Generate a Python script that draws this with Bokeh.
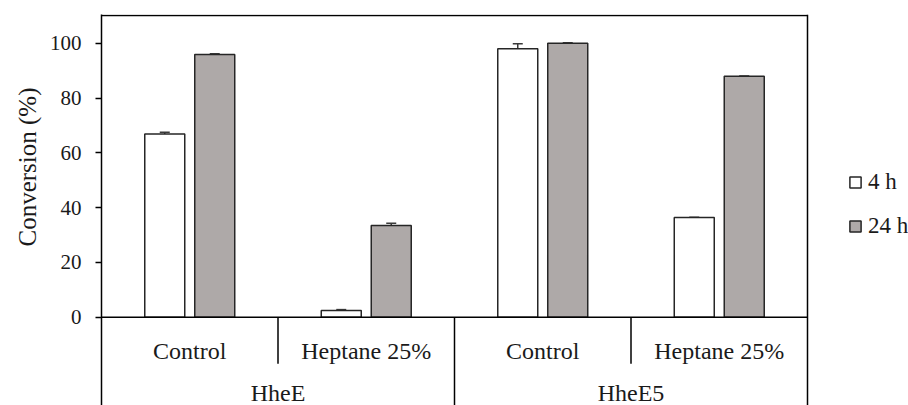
from bokeh.plotting import figure
from bokeh.models import (ColumnDataSource, Whisker, Span, Legend, LegendItem,
                          FixedTicker, Range1d, Title)
from bokeh.transform import dodge
from bokeh.core.properties import value
from bokeh.embed import file_html
from bokeh.resources import INLINE

# ---- data ----
groups = ["HheE", "HheE", "HheE5", "HheE5"]
conditions = ["Control", "Heptane 25%", "Control", "Heptane 25%"]
series = ["4 h", "24 h"]
conv_4h = [66.9, 2.5, 98.0, 36.4]
err_4h = [0.6, 0.3, 1.8, 0.1]
conv_24h = [95.9, 33.5, 100.0, 88.0]
err_24h = [0.3, 0.8, 0.2, 0.1]
y_ticks = [0, 20, 40, 60, 80, 100]
y_title = "Conversion (%)"

FONT = "Liberation Serif"
TXT = "#1a1a1a"
GRAY = "#aea9a8"
EDGE = "#262626"

# layout constants (plot box 101..807 px wide inside a 101..908 frame)
Y_MIN, Y_MAX = -32.2, 110.5
Y_TOP_LINE = 110.1
X_EXTRA = 807.0 / 706.0

n = len(conditions)
xpos = [i + 0.5 for i in range(n)]  # category centres on a 0..n axis
src = ColumnDataSource(dict(
    x=xpos, cond=conditions,
    c4=conv_4h, c4u=[v + e for v, e in zip(conv_4h, err_4h)], c4l=[v - e for v, e in zip(conv_4h, err_4h)],
    c24=conv_24h, c24u=[v + e for v, e in zip(conv_24h, err_24h)], c24l=[v - e for v, e in zip(conv_24h, err_24h)],
))

p = figure(x_range=Range1d(0, n * X_EXTRA), y_range=Range1d(Y_MIN, Y_MAX), width=908, height=405,
           output_backend="svg", toolbar_location=None, x_axis_location=None,
           min_border_left=101, min_border_right=0, min_border_top=14, min_border_bottom=0)
p.outline_line_color = None
p.grid.grid_line_color = None
p.background_fill_color = "white"

off = 0.1416
bw = 0.2266
r4 = p.vbar(x=dodge("x", -off), top="c4", width=bw, source=src,
            fill_color="white", line_color=EDGE, line_width=1.5)
r24 = p.vbar(x=dodge("x", off), top="c24", width=bw, source=src,
             fill_color=GRAY, line_color=EDGE, line_width=1.5)

for base_off, up, lo in [(-off, "c4u", "c4l"), (off, "c24u", "c24l")]:
    w = Whisker(source=src, base=dodge("x", base_off), upper=up, lower=lo,
                line_color="#3a3a3a", line_width=1.5)
    w.upper_head.size = 10
    w.lower_head.size = 10
    w.upper_head.line_color = "#3a3a3a"
    w.lower_head.line_color = "#3a3a3a"
    w.upper_head.line_width = 1.5
    w.lower_head.line_width = 1.5
    p.add_layout(w)

# y axis
ax = p.yaxis[0]
ax.ticker = FixedTicker(ticks=y_ticks)
ax.minor_tick_line_color = None
ax.major_tick_in = 0
ax.major_tick_out = 6
ax.major_tick_line_width = 1.5
ax.axis_line_width = 1.5
ax.axis_line_color = "black"
ax.major_tick_line_color = "black"
ax.major_label_standoff = 14
ax.major_label_text_font = FONT
ax.major_label_text_font_size = "21px"
ax.major_label_text_color = TXT

# y title, centred on the 0..110 part of the axis
p.add_layout(Title(text=y_title, align="right", offset=73, standoff=12,
                   text_font=FONT, text_font_size="25px", text_font_style="normal",
                   text_color=TXT), "left")

# frame: right edge, top edge, zero line
p.add_layout(Span(location=n, dimension="height", line_color="black", line_width=1.5))
p.segment(x0=[0], x1=[n], y0=[Y_TOP_LINE], y1=[Y_TOP_LINE], line_color="black", line_width=1.5)
p.segment(x0=[0], x1=[n], y0=[0], y1=[0], line_color="black", line_width=1.5)

# category separators
sub_b = [i for i in range(1, n) if groups[i] == groups[i - 1]]
grp_b = [i for i in range(1, n) if groups[i] != groups[i - 1]]
p.segment(x0=sub_b, x1=sub_b, y0=[0] * len(sub_b), y1=[-17.0] * len(sub_b),
          line_color="black", line_width=1.5)
p.segment(x0=grp_b, x1=grp_b, y0=[0] * len(grp_b), y1=[Y_MIN] * len(grp_b),
          line_color="black", line_width=1.5)

# category labels
p.text(x="x", y=-12.2, text="cond", source=src, text_align="center", text_baseline="middle",
       text_font=value(FONT), text_font_size="24px", text_color=TXT)
ug = list(dict.fromkeys(groups))
gx = [sum(xpos[i] for i in range(n) if groups[i] == g) / groups.count(g) for g in ug]
p.text(x=gx, y=[-27.6] * len(ug), text=ug, text_align="center", text_baseline="middle",
       text_font=value(FONT), text_font_size="24px", text_color=TXT)

legend = Legend(items=[LegendItem(label=series[0], renderers=[r4]),
                       LegendItem(label=series[1], renderers=[r24])],
                location=(747, 166), padding=0, margin=0, spacing=18,
                glyph_width=14, glyph_height=14, label_height=26, label_standoff=6,
                label_text_font=FONT, label_text_font_size="23px", label_text_color=TXT,
                border_line_color=None, background_fill_alpha=0)
p.add_layout(legend)

open("out.html", "w").write(file_html(p, INLINE))
